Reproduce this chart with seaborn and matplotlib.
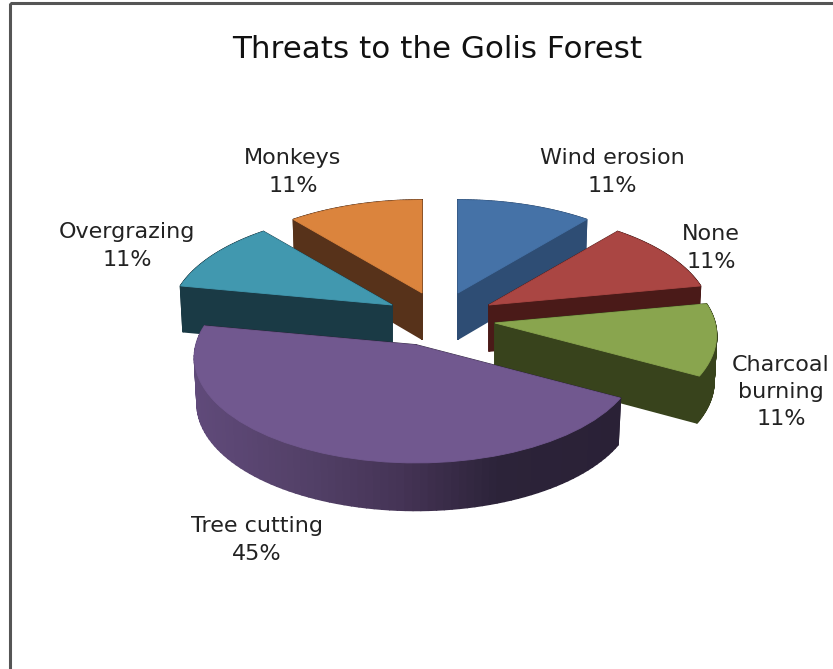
import numpy as np
import matplotlib
matplotlib.use("Agg")
import matplotlib.pyplot as plt
from matplotlib.collections import PolyCollection
from matplotlib.colors import to_rgb
from matplotlib.patches import Rectangle
from matplotlib.path import Path
from matplotlib.transforms import Transform
import seaborn as sns

# --- data ---
categories = ["Wind erosion", "None", "Charcoal\nburning", "Tree cutting", "Overgrazing", "Monkeys"]
shares = [11, 11, 11, 45, 11, 11]

# --- style ---
top_colors = ["#4572A7", "#AA4643", "#89A54E", "#71588F", "#4198AF", "#DB843D"]
wall_colors = ["#2E4D74", "#4A1A18", "#38431C", "#2C2339", "#1A3A45", "#57321A"]
tree_wall_x = [195, 300, 400, 500, 622]
tree_wall_c = ["#604A7A", "#544169", "#453456", "#2C2339", "#2A2136"]
apexes = [(458, 293), (489, 305), (495, 323), (416, 345), (392, 305), (422, 293)]
label_xy = [(612, 172), (711, 248), (781, 392), (257, 540), (127, 246), (293, 172)]
paint_order = [5, 0, 4, 1, 2, 3]
RX, RY, K = 220, 104, 0.118
DEPTH, BOTTOM_SCALE = 46, 0.988

sns.set_theme(style="white")
plt.rcParams["font.family"] = ["DejaVu Sans"]


class Tilt(Transform):
    """Perspective view of the unit pie disc; z is the drop below the top face."""
    input_dims = output_dims = 2
    is_separable = False
    has_inverse = False

    def __init__(self, apex, z=0.0):
        super().__init__()
        self.apex, self.z = apex, z

    def transform_non_affine(self, values):
        u, v = np.asarray(values, float).T
        w = 1 + K * v
        s = 1 - (1 - BOTTOM_SCALE) * self.z
        x = self.apex[0] + s * RX * u / w
        y = self.apex[1] - s * RY * v / w + self.z * DEPTH / (1 + 0.06 * v)
        return np.column_stack([x, y])

    def transform_path_non_affine(self, path):
        return Path(self.transform(path.vertices), path.codes)


fig = plt.figure(figsize=(8.33, 6.69), dpi=100, facecolor="white")
ax = fig.add_axes([0, 0, 1, 1])
wedges, _ = ax.pie(shares, startangle=90, counterclock=False, colors=sns.color_palette(top_colors))
ax.set_aspect("auto")
ax.set_xlim(0, 833)
ax.set_ylim(669, 0)
ax.set_axis_off()

for rank, i in enumerate(paint_order):
    wedge = wedges[i]
    apex = apexes[i]
    top, bottom = Tilt(apex, 0), Tilt(apex, 1)
    a1, a2 = np.radians(wedge.theta1), np.radians(wedge.theta2)
    th = np.linspace(a1, a2, 90)
    rim = np.column_stack([np.cos(th), np.sin(th)])
    rim_t, rim_b = top.transform(rim), bottom.transform(rim)
    o = np.array([[0.0, 0.0]])
    o_t, o_b = top.transform(o)[0], bottom.transform(o)[0]

    polys = [[o_t, rim_t[0], rim_b[0], o_b], [o_t, rim_t[-1], rim_b[-1], o_b]]
    cols = [to_rgb(wall_colors[i])] * 2
    for j in range(len(th) - 1):
        polys.append([rim_t[j], rim_t[j + 1], rim_b[j + 1], rim_b[j]])
        if categories[i] == "Tree cutting":
            xm = (rim_t[j][0] + rim_t[j + 1][0]) / 2
            stops = np.array([to_rgb(c) for c in tree_wall_c])
            cols.append(tuple(np.interp(xm, tree_wall_x, stops[:, n]) for n in range(3)))
        else:
            cols.append(to_rgb(wall_colors[i]))
    ax.add_collection(PolyCollection(polys, facecolors=cols, edgecolors=cols,
                                     linewidths=1.2, zorder=2 + 2 * rank))
    wedge.set_transform(top + ax.transData)
    wedge.set_zorder(3 + 2 * rank)
    wedge.set_edgecolor(top_colors[i])
    wedge.set_linewidth(0.6)
    wedge.set_clip_on(False)

for name, share, (x, y) in zip(categories, shares, label_xy):
    ax.text(x, y, f"{name}\n{share}%", ha="center", va="center", fontsize=16,
            color="#222222", linespacing=1.45, zorder=30)

ax.text(437, 50, "Threats to the Golis Forest", ha="center", va="center",
        fontsize=22.3, color="#111111", zorder=30)

ax.add_patch(Rectangle((10.5, 3), 900, 800, fill=False, edgecolor="#555555", linewidth=2.2,
                       zorder=31))

fig.savefig("out.png", dpi=100, facecolor="white")
